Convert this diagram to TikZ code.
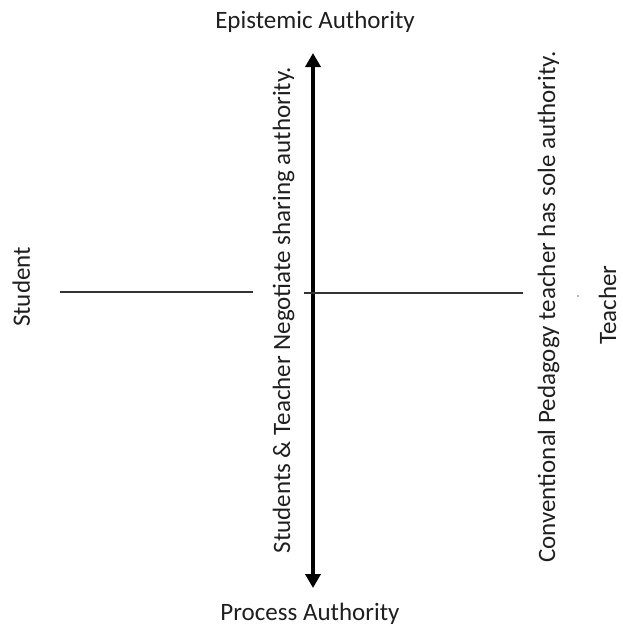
\documentclass[tikz,border=0pt]{standalone}
\usepackage{fontspec}
\setmainfont{Carlito}
\usetikzlibrary{arrows.meta}
\begin{document}
\begin{tikzpicture}[x=1pt,y=-1pt,
  lbl/.style={inner sep=0pt,text=black!88,font=\fontsize{25}{29}\selectfont},
  vlbl/.style={lbl,rotate=90,anchor=base},
  axis/.style={line width=4.5pt,{Triangle[width=15pt,length=14pt]}-{Triangle[width=15pt,length=14pt]}},
  rule/.style={line width=1.3pt,draw=black!80}]
  \useasboundingbox (0,0) rectangle (622,627);
  % vertical authority axis
  \node[lbl,anchor=base] (epi) at (315,28) {Epistemic Authority};
  \node[lbl,anchor=base] (proc) at (310,620) {Process Authority};
  \coordinate (top) at (313,53);
  \coordinate (bot) at (313,588);
  \draw[axis] (top) -- (bot);
  % horizontal student--teacher line
  \coordinate (sl) at (60,292);
  \coordinate (sr) at (253,292);
  \coordinate (tl) at (304,293);
  \coordinate (tr) at (523,293);
  \draw[rule] (sl) -- (sr);
  \draw[rule] (tl) -- (tr);
  % side labels
  \node[vlbl] (student) at (30,287) {Student};
  \node[vlbl] (teacher) at (616,305) {Teacher};
  \node[vlbl] (share) at (290,310) {Students \& Teacher Negotiate sharing authority.};
  \node[vlbl] (conv) at (555,307) {Conventional Pedagogy teacher has sole authority.};
  \fill[black!55] (578,296) circle (0.9);
\end{tikzpicture}
\end{document}
